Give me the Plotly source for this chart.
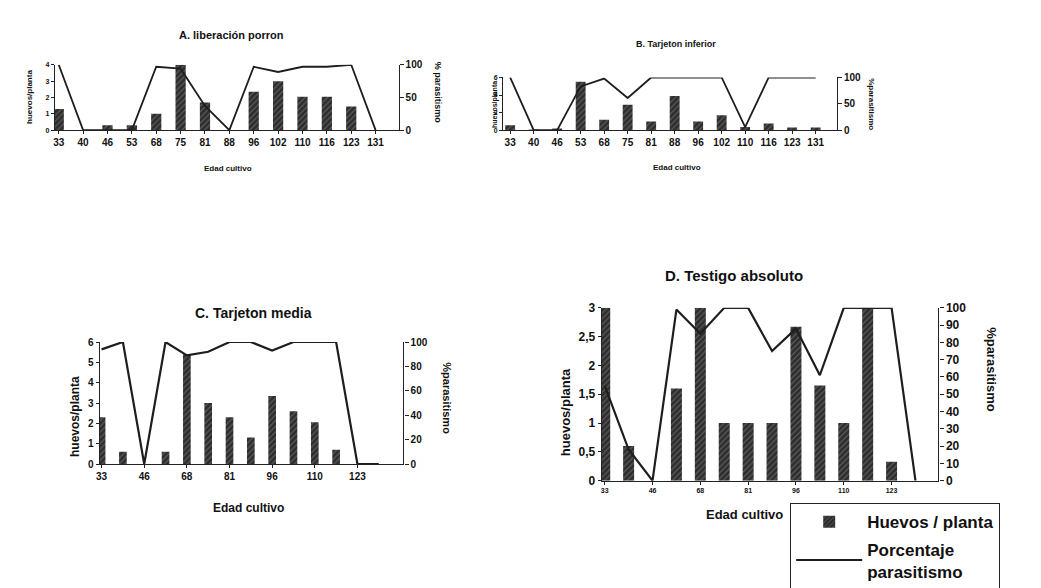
import plotly.graph_objects as go

W, H = 1041, 588

categories = ["33", "40", "46", "53", "68", "75", "81", "88", "96", "102", "110", "116", "123", "131"]

A_huevos = [1.3, 0, 0.3, 0.3, 1.0, 4.0, 1.7, 0, 2.35, 3.0, 2.05, 2.05, 1.45, 0]
A_paras = [100, 0, 0, 0, 97, 94, 37, 0, 97, 89, 97, 97, 100, 0]

B_huevos = [0.55, 0.05, 0.2, 5.5, 1.2, 2.9, 1.0, 3.9, 1.0, 1.7, 0.35, 0.75, 0.3, 0.3]
B_paras = [100, 0, 0, 83, 98, 61, 100, 100, 100, 100, 6, 100, 100, 100]

C_huevos = [2.3, 0.6, 0, 0.6, 5.4, 3.0, 2.3, 1.3, 3.35, 2.6, 2.05, 0.7, 0, 0]
C_paras = [94, 100, 0, 100, 89, 92, 100, 100, 93, 100, 100, 100, 0, 0]

D_huevos = [3.0, 0.6, 0, 1.6, 3.0, 1.0, 1.0, 1.0, 2.67, 1.65, 1.0, 3.0, 0.33, 0]
D_paras = [55, 18, 0, 99, 85, 100, 100, 75, 88, 61, 100, 100, 100, 0]

CD_xticks = ["33", "46", "68", "81", "96", "110", "123"]
D_left_tickvals = [0, 0.5, 1, 1.5, 2, 2.5, 3]
D_left_ticktext = ["0", "0,5", "1", "1,5", "2", "2,5", "3"]

titles = ["A. liberación porron", "B. Tarjeton inferior", "C. Tarjeton media", "D. Testigo absoluto"]

FONT = "Liberation Sans, Arial, sans-serif"
BAR_COLOR = "#2e2e2e"
LINE_COLOR = "#1e1e1e"
TXT = "#111111"


def px_x(x):
    return x / W


def px_y(y):
    return 1 - y / H


fig = go.Figure()

panels = [
    dict(h=A_huevos, p=A_paras, box=(43, 388, 51, 118), xr=[-0.16, 13.94], yl=[0, 4],
         ltick=dict(tickvals=[0, 1, 2, 3, 4]), rtick=[0, 50, 100], xticks=categories,
         bw=0.42, lw=1.8, xfs=10, lfs=7, rfs=10),
    dict(h=B_huevos, p=B_paras, box=(493, 828, 64, 118), xr=[-0.3, 13.9], yl=[0, 6],
         ltick=dict(tickvals=[0, 2, 4, 6]), rtick=[0, 50, 100], xticks=categories,
         bw=0.42, lw=1.8, xfs=10, lfs=7, rfs=10),
    dict(h=C_huevos, p=C_paras, box=(88, 393, 335, 460), xr=[-0.09, 14.16], yl=[0, 6],
         ltick=dict(tickvals=[0, 1, 2, 3, 4, 5, 6]), rtick=[0, 20, 40, 60, 80, 100], xticks=CD_xticks,
         bw=0.36, lw=2.2, xfs=10, lfs=10, rfs=10),
    dict(h=D_huevos, p=D_paras, box=(592, 930, 300, 477), xr=[-0.125, 13.96], yl=[0, 3],
         ltick=dict(tickvals=D_left_tickvals, ticktext=D_left_ticktext),
         rtick=[0, 10, 20, 30, 40, 50, 60, 70, 80, 90, 100], xticks=CD_xticks,
         bw=0.46, lw=2.2, xfs=7, lfs=12, rfs=12),
]

layout = {}
for i, pn in enumerate(panels, start=1):
    xa = "x" if i == 1 else f"x{i}"
    ya = "y" if i == 1 else f"y{i}"
    yr = f"y{i + 4}"
    x0, x1, y0, y1 = pn["box"]
    fig.add_trace(go.Bar(
        x=categories, y=pn["h"], xaxis=xa, yaxis=ya, width=pn["bw"],
        name="Huevos / planta", legendgroup="h", showlegend=(i == 1),
        marker=dict(color=BAR_COLOR, line=dict(width=0),
                    pattern=dict(shape="/", fgcolor="#9a9a9a", bgcolor=BAR_COLOR, size=4, solidity=0.25)),
    ))
    fig.add_trace(go.Scatter(
        x=categories, y=pn["p"], xaxis=xa, yaxis=yr, mode="lines",
        name="Porcentaje<br>parasitismo", legendgroup="p", showlegend=(i == 1),
        line=dict(color=LINE_COLOR, width=pn["lw"]), cliponaxis=False,
    ))
    xkey = "xaxis" if i == 1 else f"xaxis{i}"
    ykey = "yaxis" if i == 1 else f"yaxis{i}"
    layout[xkey] = dict(
        domain=[px_x(x0), px_x(x1)], anchor=ya, type="category",
        categoryorder="array", categoryarray=categories, range=pn["xr"],
        tickmode="array", tickvals=pn["xticks"], ticktext=pn["xticks"],
        showline=True, linecolor="#222", linewidth=1.2, ticks="outside", ticklen=3,
        tickcolor="#222", showgrid=False, zeroline=False,
        tickfont=dict(family=FONT, size=pn["xfs"], color=TXT, weight="bold"),
    )
    layout[ykey] = dict(
        domain=[px_y(y1), px_y(y0)], anchor=xa, range=pn["yl"], tickmode="array",
        showline=True, linecolor="#222", linewidth=1.2, ticks="outside", ticklen=3,
        tickcolor="#222", showgrid=False, zeroline=False,
        tickfont=dict(family=FONT, size=pn["lfs"], color=TXT, weight="bold"),
        **pn["ltick"],
    )
    layout[f"yaxis{i + 4}"] = dict(
        overlaying=ya, anchor=xa, side="right", range=[0, 100], tickmode="array",
        tickvals=pn["rtick"], showline=True, linecolor="#222", linewidth=1.2,
        ticks="outside", ticklen=4, tickcolor="#222", showgrid=False, zeroline=False,
        tickfont=dict(family=FONT, size=pn["rfs"], color=TXT, weight="bold"),
    )

annotations = []


def ann(text, x, y, size, angle=0):
    annotations.append(dict(
        text=text, x=px_x(x), y=px_y(y), xref="paper", yref="paper",
        xanchor="center", yanchor="middle", showarrow=False, textangle=angle,
        font=dict(family=FONT, size=size, color=TXT, weight="bold"),
    ))


# titles
ann(titles[0], 220, 20, 11)
ann(titles[1], 667, 30, 9)
ann(titles[2], 242, 305, 14)
ann(titles[3], 725, 267, 15)
# x titles
ann("Edad cultivo", 217, 157, 8)
ann("Edad cultivo", 668, 156, 8)
ann("Edad cultivo", 237, 505, 12)
ann("Edad cultivo", 735, 512, 13)
# left y titles
ann("huevos/planta", 18, 84, 8, -90)
ann("huevos/planta", 485, 92, 7, -90)
ann("huevos/planta", 63, 411, 12, -90)
ann("huevos/planta", 555, 407, 13, -90)
# right y titles
ann("% parasitismo", 428, 80, 9, 90)
ann("%parasitismo", 862, 91, 8, 90)
ann("%parasitismo", 437, 393, 11, 90)
ann("%parasitismo", 983, 363, 13, 90)

fig.update_layout(
    width=W, height=H, margin=dict(l=0, r=0, t=0, b=0),
    paper_bgcolor="white", plot_bgcolor="white",
    annotations=annotations, barmode="overlay",
    legend=dict(
        x=px_x(781), y=px_y(500), xanchor="left", yanchor="top",
        bordercolor="#222", borderwidth=1.2, bgcolor="white",
        font=dict(family=FONT, size=17, color=TXT, weight="bold"),
        itemwidth=66, tracegroupgap=2,
    ),
    font=dict(family=FONT, color=TXT),
    **layout,
)

fig.write_html("out.html")
